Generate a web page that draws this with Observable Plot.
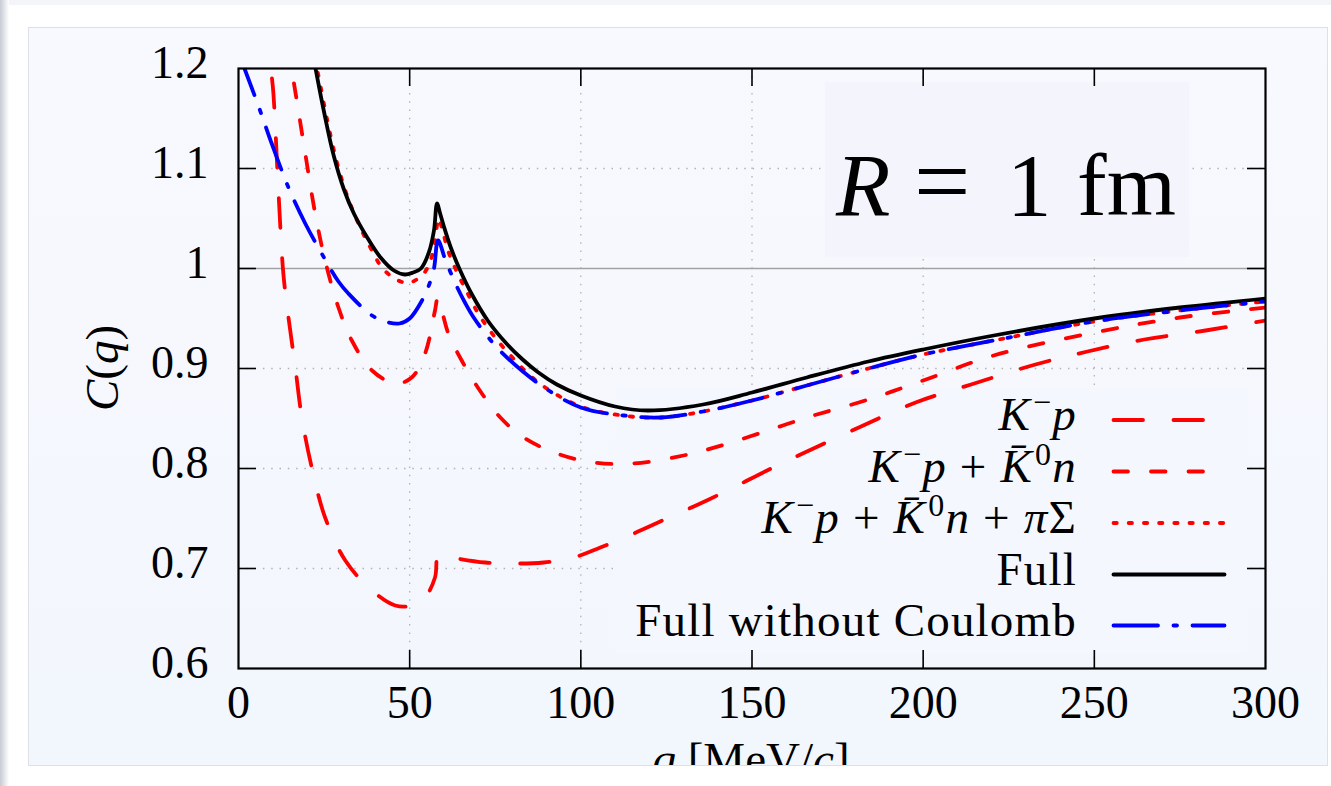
<!DOCTYPE html>
<html>
<head>
<meta charset="utf-8">
<script src="https://cdn.jsdelivr.net/npm/d3@7"></script>
<script src="https://cdn.jsdelivr.net/npm/@observablehq/plot@0.6"></script>
<style>
  html, body { margin: 0; padding: 0; background: #ffffff; }
  #page { position: relative; width: 1331px; height: 786px; overflow: hidden; background: #ffffff; }
  #topstrip { position: absolute; left: 0; top: 0; width: 1331px; height: 5px; background: #f3f5f8; }
  #shadow { position: absolute; left: 0; top: 0; width: 9px; height: 786px; background: linear-gradient(to right, #c6cad2, #eef0f3 70%, #ffffff); }
  #panel { position: absolute; left: 28px; top: 27px; width: 1298px; height: 737px; overflow: hidden;
           border: 1px solid #dde0e6; background: linear-gradient(#f8f9fe, #f2f6fd); }
  #chart { position: absolute; left: -29px; top: -28px; width: 1331px; height: 786px; }
  #chart svg { max-width: none !important; width: 1331px; height: 786px; }
</style>
</head>
<body>
<div id="page">
  <div id="topstrip"></div>
  <div id="shadow"></div>
  <div id="panel"><div id="chart"></div></div>
</div>
<script>
// ---------- data ----------
const xTicks = [0, 50, 100, 150, 200, 250, 300];
const yTicks = [0.6, 0.7, 0.8, 0.9, 1.0, 1.1, 1.2];
const xGrid = [50, 100, 150, 200, 250];
const yGrid = [0.7, 0.8, 0.9, 1.1];
const yRef = [1.0];

// K^- p  (long dashed, red)
const qKp = [8.5, 9.5, 10.2, 11.7, 13.1, 14.6, 16.6, 18.5, 21.4, 25.3, 31.2, 39, 45.8, 50.6, 54.5, 57.4, 58.5, 62.3, 72.1, 80.8, 89.1, 97.9, 105.7, 115.4, 125.1, 134.9, 144.6, 154.4, 164.8, 181.2, 197.8, 214, 232.8, 248, 264.6, 282.5, 300];
const cKp = [1.25, 1.2, 1.175, 1.075, 0.995, 0.951, 0.901, 0.851, 0.801, 0.751, 0.708, 0.678, 0.663, 0.663, 0.671, 0.691, 0.714, 0.711, 0.706, 0.705, 0.706, 0.711, 0.721, 0.735, 0.750, 0.765, 0.781, 0.798, 0.815, 0.841, 0.866, 0.884, 0.904, 0.917, 0.929, 0.938, 0.948];

// K^- p + K0bar n  (short dashed, red)
const qKpKn = [14, 15.6, 17.5, 19.5, 22.4, 25.3, 29.2, 33.1, 39, 45.8, 50.6, 54.5, 57.4, 58.2, 61.3, 65.2, 70.1, 76.5, 83.3, 93, 103.7, 115.4, 130, 142, 159, 166, 184, 200, 220.6, 250, 275, 300];
const cKpKn = [1.26, 1.2, 1.158, 1.115, 1.055, 1.008, 0.961, 0.928, 0.898, 0.885, 0.891, 0.915, 0.958, 0.970, 0.935, 0.908, 0.880, 0.851, 0.831, 0.815, 0.806, 0.805, 0.813, 0.824, 0.843, 0.851, 0.869, 0.888, 0.913, 0.936, 0.951, 0.961];

// K^- p + K0bar n + pi Sigma  (dotted, red)
const qPiS = [20, 22.9, 25.4, 28.6, 31.5, 34.4, 37.6, 42.4, 47.3, 50.2, 54.1, 56.1, 57.3, 58.5, 59.6, 61.4, 64.3, 66.8, 69.7, 73, 77.9, 87.6, 100, 112, 123.5, 135.7, 150, 166, 184, 200, 220.6, 250, 275, 300];
const cPiS = [1.24, 1.2, 1.157, 1.108, 1.075, 1.05, 1.027, 0.999, 0.987, 0.986, 0.995, 1.008, 1.026, 1.050, 1.038, 1.016, 0.993, 0.976, 0.957, 0.940, 0.919, 0.886, 0.862, 0.853, 0.851, 0.857, 0.868, 0.883, 0.900, 0.914, 0.928, 0.947, 0.958, 0.967];

// Full  (solid, black)
const qFull = [20, 22.5, 24.9, 27.8, 30.8, 33.7, 37.6, 41.5, 45.4, 48.6, 51, 53.3, 55.6, 57.1, 58.0, 58.9, 60, 61.9, 64.5, 68.2, 73, 78, 83, 87.6, 93, 100, 110, 119.5, 135.7, 150, 166, 184, 200, 220.6, 250, 275, 300];
const cFull = [1.245, 1.2, 1.158, 1.113, 1.079, 1.055, 1.031, 1.011, 0.998, 0.994, 0.996, 1.0, 1.016, 1.038, 1.065, 1.055, 1.042, 1.022, 1.0, 0.974, 0.947, 0.926, 0.909, 0.896, 0.884, 0.873, 0.862, 0.858, 0.864, 0.876, 0.891, 0.907, 0.919, 0.933, 0.950, 0.961, 0.970];

// Full without Coulomb  (dash-dot, blue)
const qNoC = [0, 1.75, 6.3, 9.7, 14.6, 19.5, 24.3, 29.2, 32.1, 39, 43.8, 47, 50, 53.6, 55.6, 57.1, 58.3, 60.5, 63.9, 66.3, 68.7, 73, 76.9, 87.6, 100, 112.6, 123.5, 135.7, 150, 166, 184, 200, 220.6, 250, 275, 300];
const cNoC = [1.215, 1.2, 1.158, 1.125, 1.081, 1.045, 1.015, 0.987, 0.975, 0.953, 0.946, 0.945, 0.950, 0.968, 0.983, 1.0, 1.028, 1.008, 0.981, 0.965, 0.951, 0.931, 0.916, 0.885, 0.861, 0.853, 0.851, 0.857, 0.868, 0.883, 0.900, 0.914, 0.928, 0.947, 0.958, 0.967];

const seriesNames = ["K⁻p", "K⁻p + K̄⁰n", "K⁻p + K̄⁰n + πΣ", "Full", "Full without Coulomb"];

// ---------- styles ----------
const LW = 3.8;
const styles = [
  {stroke: "#ff0000", dash: "29.5,30.5"},
  {stroke: "#ff0000", dash: "14.5,23"},
  {stroke: "#ff0000", dash: "3.3,11.9"},
  {stroke: "#000000", dash: null},
  {stroke: "#0000ff", dash: "44.5,15.5,3.5,15.5"}
];

const toRows = (q, c) => q.map((x, i) => ({q: x, c: c[i]}));
const allSeries = [toRows(qKp, cKp), toRows(qKpKn, cKpKn), toRows(qPiS, cPiS), toRows(qFull, cFull), toRows(qNoC, cNoC)];

const W = 1331, H = 786, mL = 238, mR = 66, mT = 68, mB = 118;
const innerW = W - mL - mR, innerH = H - mT - mB;
const TICK = 18;

const lineMarks = allSeries.map((rows, i) => Plot.line(rows, {
  x: "q", y: "c", stroke: styles[i].stroke, strokeWidth: LW,
  strokeDasharray: styles[i].dash, strokeLinecap: "round", strokeLinejoin: "round",
  curve: "catmull-rom", clip: true
}));

const chart = Plot.plot({
  width: W, height: H,
  marginLeft: mL, marginRight: mR, marginTop: mT, marginBottom: mB,
  x: {domain: [0, 300]},
  y: {domain: [0.6, 1.2]},
  style: {background: "transparent", fontFamily: "'Liberation Serif', 'Times New Roman', serif", fontSize: "45px", color: "#000", maxWidth: "none"},
  marks: [
    Plot.ruleX(xGrid, {stroke: "#b2b2b2", strokeWidth: 1.3, strokeDasharray: "1.5,6.8"}),
    Plot.ruleY(yGrid, {stroke: "#b2b2b2", strokeWidth: 1.3, strokeDasharray: "1.5,6.8"}),
    Plot.ruleY(yRef, {stroke: "#a2a2a2", strokeWidth: 1.4}),
    ...lineMarks,
    Plot.ruleX(xTicks.slice(1, -1), {insetTop: innerH - TICK, stroke: "#000", strokeWidth: 1.6}),
    Plot.ruleX(xTicks.slice(1, -1), {insetBottom: innerH - TICK, stroke: "#000", strokeWidth: 1.6}),
    Plot.ruleY(yTicks.slice(1, -1), {insetRight: innerW - TICK, stroke: "#000", strokeWidth: 1.6}),
    Plot.ruleY(yTicks.slice(1, -1), {insetLeft: innerW - TICK, stroke: "#000", strokeWidth: 1.6}),
    Plot.frame({stroke: "#000", strokeWidth: 2.2}),
    Plot.axisX(xTicks, {tickSize: 0, tickPadding: 17, label: null, fontSize: 46}),
    Plot.axisY(yTicks, {tickSize: 0, tickPadding: 30, label: null, fontSize: 46, dy: -5,
      tickFormat: d => (Math.abs(d - 1) < 1e-9 ? "1" : d.toFixed(1))})
  ]
});
document.getElementById("chart").appendChild(chart);

// ---------- annotations, legend, axis titles ----------
const svg = d3.select(chart);
const firstLine = chart.querySelector('g[aria-label="line"]');
const NS = "http://www.w3.org/2000/svg";
function insertRect(x, y, w, h, fill) {
  const r = document.createElementNS(NS, "rect");
  r.setAttribute("x", x); r.setAttribute("y", y);
  r.setAttribute("width", w); r.setAttribute("height", h);
  r.setAttribute("fill", fill);
  chart.insertBefore(r, firstLine);
}
// legend box (opaque, hides the grid) and "R = 1 fm" box
insertRect(615, 388, 632, 266, "#f4f7fd");
insertRect(825, 82, 364, 175, "#f3f4fc");

const FONT = "'Liberation Serif', 'Times New Roman', serif";

// "R = 1 fm"
const rt = svg.append("text").attr("font-family", FONT).attr("font-size", 89).attr("fill", "#000")
  .attr("text-anchor", "start").attr("y", 215);
rt.append("tspan").attr("x", 836).attr("font-style", "italic").text("R");
rt.append("tspan").attr("x", 914).attr("font-size", 100).text("=");
rt.append("tspan").attr("x", 1007).text("1");
rt.append("tspan").attr("x", 1077).text("fm");

// legend
const rowY = [420, 471.5, 523, 574.5, 625.5];
const legendParts = [
  [["K", "i"], ["−", "sup"], ["p", "i"]],
  [["K", "i"], ["−", "sup"], ["p", "i"], [" + ", ""], ["K̄", "i"], ["0", "sup"], ["n", "i"]],
  [["K", "i"], ["−", "sup"], ["p", "i"], [" + ", ""], ["K̄", "i"], ["0", "sup"], ["n", "i"], [" + ", ""], ["π", "i"], ["Σ", ""]],
  [["Full", ""]],
  [["Full without Coulomb", ""]]
];
const lg = svg.append("g").attr("class", "legend");
rowY.forEach((y, i) => {
  lg.append("line").attr("x1", 1113.5).attr("x2", 1224.5).attr("y1", y).attr("y2", y)
    .attr("stroke", styles[i].stroke).attr("stroke-width", LW)
    .attr("stroke-linecap", "round")
    .attr("stroke-dasharray", styles[i].dash);
  const t = lg.append("text").attr("x", 1077).attr("y", y + 10).attr("text-anchor", "end")
    .attr("font-family", FONT).attr("font-size", 47).attr("letter-spacing", 1.2).attr("fill", "#000")
    .attr("aria-label", seriesNames[i]);
  let shifted = false;
  legendParts[i].forEach(([s, kind]) => {
    const sp = t.append("tspan").text(s);
    if (kind === "i") sp.attr("font-style", "italic");
    if (kind === "sup") { sp.attr("font-size", 32).attr("dy", -17).attr("dx", 2); shifted = true; }
    else if (shifted) { sp.attr("dy", 17); shifted = false; }
  });
});

// y-axis title C(q)
const yt = svg.append("text").attr("transform", "translate(118,368) rotate(-90)")
  .attr("text-anchor", "middle").attr("font-family", FONT).attr("font-size", 47).attr("fill", "#000");
yt.append("tspan").attr("font-style", "italic").text("C");
yt.append("tspan").text("(");
yt.append("tspan").attr("font-style", "italic").text("q");
yt.append("tspan").text(")");

// x-axis title q [MeV/c]
const xt = svg.append("text").attr("x", 751).attr("y", 775)
  .attr("text-anchor", "middle").attr("font-family", FONT).attr("font-size", 47).attr("fill", "#000");
xt.append("tspan").attr("font-style", "italic").text("q");
xt.append("tspan").text(" [MeV/");
xt.append("tspan").attr("font-style", "italic").text("c");
xt.append("tspan").text("]");
</script>
</body>
</html>
